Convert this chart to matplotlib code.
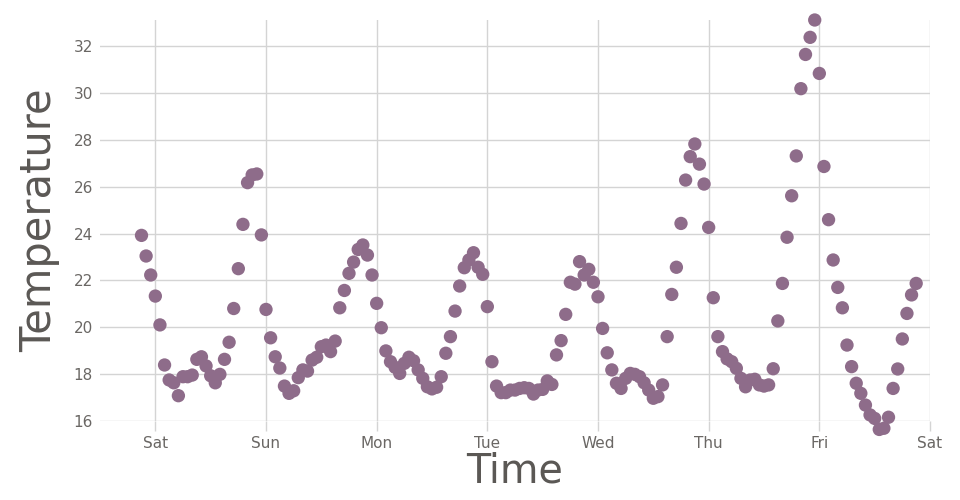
import matplotlib
matplotlib.use("Agg")
import matplotlib.pyplot as plt
import matplotlib.dates as mdates
import pandas as pd

# hourly readings, Friday 21:00 through the following Friday 21:00
START = "2023-06-02 21:00"
temperature = [
    23.92, 23.04, 22.23, 21.33, 20.10, 18.39, 17.75, 17.63, 17.08, 17.89,
    17.89, 17.96, 18.63, 18.74, 18.35, 17.93, 17.63, 17.99, 18.63, 19.36,
    20.80, 22.50, 24.39, 26.17, 26.50, 26.54, 23.94, 20.76, 19.55, 18.74,
    18.26, 17.49, 17.18, 17.29, 17.85, 18.18, 18.13, 18.60, 18.72, 19.17,
    19.24, 18.96, 19.41, 20.83, 21.57, 22.30, 22.78, 23.32, 23.51, 23.08,
    22.23, 21.02, 19.98, 18.99, 18.53, 18.29, 18.03, 18.46, 18.72, 18.57,
    18.18, 17.82, 17.46, 17.37, 17.44, 17.89, 18.89, 19.60, 20.69, 21.76,
    22.54, 22.87, 23.18, 22.56, 22.26, 20.88, 18.53, 17.49, 17.21, 17.21,
    17.32, 17.32, 17.39, 17.42, 17.39, 17.15, 17.32, 17.35, 17.71, 17.56,
    18.82, 19.43, 20.55, 21.92, 21.84, 22.80, 22.23, 22.47, 21.92, 21.30,
    19.95, 18.91, 18.18, 17.61, 17.39, 17.82, 18.03, 17.99, 17.89, 17.63,
    17.32, 16.97, 17.04, 17.54, 19.60, 21.40, 22.56, 24.43, 26.28, 27.28,
    27.82, 26.96, 26.11, 24.26, 21.26, 19.60, 18.96, 18.65, 18.53, 18.25,
    17.82, 17.46, 17.75, 17.78, 17.54, 17.49, 17.54, 18.23, 20.27, 21.87,
    23.84, 25.61, 27.31, 30.18, 31.64, 32.37, 33.11, 30.83, 26.86, 24.59,
    22.87, 21.70, 20.83, 19.24, 18.32, 17.61, 17.18, 16.68, 16.26, 16.11,
    15.64, 15.69, 16.16, 17.39, 18.22, 19.50, 20.59, 21.38, 21.87,
]
times = pd.date_range(START, periods=len(temperature), freq="h")
y_ticks = [16, 18, 20, 22, 24, 26, 28, 30, 32]

DOT = "#8E6C8A"
GRID = "#d4d4d4"
TEXT = "#5b5855"
plt.rcParams.update({"font.family": "DejaVu Sans"})

fig = plt.figure(figsize=(9.6, 5.0), dpi=100)
ax = fig.add_axes([100 / 960, 79 / 500, 830 / 960, 401 / 500])

ax.scatter(times, temperature, s=92, color=DOT, edgecolors="none",
           clip_on=False, zorder=3)

ax.set_xlim(pd.Timestamp("2023-06-02 12:00"), pd.Timestamp("2023-06-10 00:00"))
ax.set_ylim(16, 33.11)
ax.xaxis.set_major_locator(mdates.DayLocator())
ax.xaxis.set_major_formatter(mdates.DateFormatter("%a"))
ax.set_yticks(y_ticks)

ax.grid(True, color=GRID, linewidth=1.0, zorder=0)
for s in ax.spines.values():
    s.set_visible(False)
ax.tick_params(axis="x", length=7, width=1.0, color=GRID, pad=4,
               labelsize=11, labelcolor="#6a6764")
ax.tick_params(axis="y", length=0, pad=5, labelsize=11, labelcolor="#6a6764")

ax.set_xlabel("Time", fontsize=28.5, color=TEXT, labelpad=0)
ax.set_ylabel("Temperature", fontsize=30, color=TEXT, labelpad=10)

fig.savefig("out.png", dpi=100)
